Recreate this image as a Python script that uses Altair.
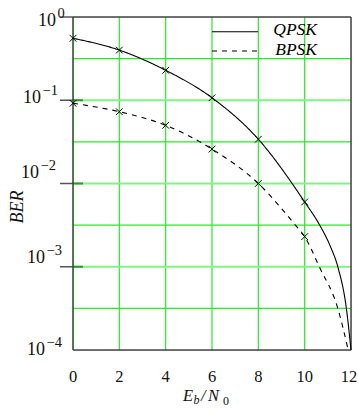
import altair as alt
import pandas as pd

# ---------------- data ----------------
ebn0 = [0, 2, 4, 6, 8, 10]
qpsk_marks = [0.555, 0.40, 0.229, 0.107, 0.034, 0.0060]
bpsk_marks = [0.092, 0.0728, 0.050, 0.0259, 0.0100, 0.0023]

# where the curves cross the horizontal grid lines near the end
qpsk_tail_x = [10.65, 11.1, 11.43, 11.8, 12.0]
qpsk_tail_y = [0.00316, 0.00178, 0.001, 0.000316, 0.0001]
bpsk_tail_x = [9.6, 10.63, 11.43, 11.88]
bpsk_tail_y = [0.00316, 0.001, 0.000316, 0.0001]

x_ticks = [0, 2, 4, 6, 8, 10, 12]
x_grid = [2, 4, 6, 8, 10]
decades = [1.0, 0.1, 0.01, 0.001, 0.0001]
decade_exp = ["0", "\u22121", "\u22122", "\u22123", "\u22124"]
half_decades = [10 ** -0.5, 10 ** -1.5, 10 ** -2.5, 10 ** -3.5]
series = ["QPSK", "BPSK"]

# ---------------- layout ----------------
W, H = 278, 333
FONT = "Liberation Serif"
GREEN = "#22ee22"
LIGHT_GREEN = "#80f580"
DARK = "#444444"

xs = alt.Scale(domain=[0, 12], nice=False, zero=False)
ys = alt.Scale(type="log", domain=[1e-4, 1], nice=False)

X = lambda f: alt.X(f, type="quantitative", scale=xs, axis=None)
Y = lambda f: alt.Y(f, type="quantitative", scale=ys, axis=None)

one = pd.DataFrame({"a": [0]})

lines_df = pd.concat([
    pd.DataFrame({"x": ebn0 + qpsk_tail_x, "ber": qpsk_marks + qpsk_tail_y, "s": "QPSK"}),
    pd.DataFrame({"x": ebn0 + bpsk_tail_x, "ber": bpsk_marks + bpsk_tail_y, "s": "BPSK"}),
])
marks_df = pd.concat([
    pd.DataFrame({"x": ebn0, "ber": qpsk_marks, "s": "QPSK"}),
    pd.DataFrame({"x": ebn0, "ber": bpsk_marks, "s": "BPSK"}),
])

layers = []

# vertical grid
layers.append(alt.Chart(pd.DataFrame({"x": x_grid})).mark_rule(color=GREEN, strokeWidth=1.2)
              .encode(x=X("x")))
# half-decade horizontal grid
layers.append(alt.Chart(pd.DataFrame({"y": half_decades})).mark_rule(color=GREEN, strokeWidth=1.2)
              .encode(y=Y("y")))
# decade horizontal grid (lighter, thicker)
layers.append(alt.Chart(pd.DataFrame({"y": decades[1:4]})).mark_rule(color=LIGHT_GREEN, strokeWidth=2)
              .encode(y=Y("y")))
# inner decade ticks (dark green)
layers.append(alt.Chart(pd.DataFrame({"y": decades[1:4]})).mark_rule(color="#2a9a2a", strokeWidth=2)
              .encode(y=Y("y"), x=alt.value(0), x2=alt.value(10)))
# outer decade ticks (gray)
layers.append(alt.Chart(pd.DataFrame({"y": decades[0:4]})).mark_rule(color="#555555", strokeWidth=1.5)
              .encode(y=Y("y"), x=alt.value(-13), x2=alt.value(0)))
# frame
layers.append(alt.Chart(one).mark_rule(color=DARK, strokeWidth=1.5)
              .encode(x=alt.value(0), x2=alt.value(W), y=alt.value(0)))
layers.append(alt.Chart(one).mark_rule(color=DARK, strokeWidth=1.5)
              .encode(x=alt.value(0), x2=alt.value(W), y=alt.value(H)))
layers.append(alt.Chart(one).mark_rule(color=DARK, strokeWidth=1.5)
              .encode(x=alt.value(W), y=alt.value(0), y2=alt.value(H)))
layers.append(alt.Chart(one).mark_rule(color="#1f4f1f", strokeWidth=1.5)
              .encode(x=alt.value(0), y=alt.value(0), y2=alt.value(H)))

# curves
dash_scale = alt.Scale(domain=series, range=[[1, 0], [5, 5]])
layers.append(alt.Chart(lines_df).mark_line(color="black", strokeWidth=1.1, interpolate="monotone")
              .encode(x=X("x"), y=Y("ber"),
                      detail="s:N",
                      strokeDash=alt.StrokeDash("s:N", scale=dash_scale, legend=None)))
# markers
layers.append(alt.Chart(marks_df).mark_point(shape="M-1,-1L1,1M-1,1L1,-1", filled=False, color="black",
                                             strokeWidth=1, size=45, opacity=1)
              .encode(x=X("x"), y=Y("ber")))

# legend
leg_df = pd.DataFrame({"s": series, "ly": [14.7, 34], "ty": [18, 38]})
layers.append(alt.Chart(leg_df).mark_rule(color="black", strokeWidth=1.1)
              .encode(x=alt.value(139), x2=alt.value(185), y=alt.Y("ly:Q", scale=None),
                      strokeDash=alt.StrokeDash("s:N", scale=dash_scale, legend=None)))
layers.append(alt.Chart(leg_df).mark_text(font=FONT, fontSize=17.5, fontStyle="italic", align="right",
                                          baseline="alphabetic", color="black")
              .encode(x=alt.value(244), y=alt.Y("ty:Q", scale=None), text="s:N"))

# x tick labels
for ticks, dx in ((x_ticks[:-1], 0), (x_ticks[-1:], -2)):
    layers.append(alt.Chart(pd.DataFrame({"x": ticks})).mark_text(font=FONT, fontSize=16.5,
                                                                    baseline="alphabetic", dx=dx,
                                                                    color="#111111")
                  .encode(x=X("x"), y=alt.value(H + 32), text=alt.Text("x:Q", format="d")))

# y tick labels (10 with superscript exponent), slightly irregular placement like the original
base_dx = [-17, -32, -34, -28, -28]
base_dy = [9, 3, -6, -4, 5]
for v, e, dx, dy in zip(decades, decade_exp, base_dx, base_dy):
    d = pd.DataFrame({"y": [v], "b": ["10"], "e": [e]})
    layers.append(alt.Chart(d).mark_text(font=FONT, fontSize=18, align="right", baseline="alphabetic",
                                         dy=dy, color="#111111")
                  .encode(x=alt.value(dx), y=Y("y"), text="b:N"))
    layers.append(alt.Chart(d).mark_text(font=FONT, fontSize=14.5, align="left", baseline="alphabetic",
                                         dy=dy - 8, color="#111111")
                  .encode(x=alt.value(dx + 1.5), y=Y("y"), text="e:N"))

# axis titles
def txt(t, x, y, size, style="italic", **kw):
    return alt.Chart(pd.DataFrame({"t": [t]})).mark_text(font=FONT, fontSize=size, fontStyle=style,
                                                         baseline="alphabetic", align="left",
                                                         color="#111111", **kw).encode(
        x=alt.value(x), y=alt.value(y), text="t:N")

layers.append(txt("E", 110, 384, 16.5))
layers.append(txt("b", 120.5, 387, 12))
layers.append(txt("/", 128, 384, 16.5))
layers.append(txt("N", 135, 384, 16.5))
layers.append(txt("0", 150, 388, 12, style="normal"))

layers.append(alt.Chart(pd.DataFrame({"t": ["BER"]})).mark_text(font=FONT, fontSize=18, fontStyle="italic",
                                                                 angle=270, align="center", baseline="middle",
                                                                 color="#111111")
              .encode(x=alt.value(-55), y=alt.value(190), text="t:N"))

chart = alt.layer(*layers).properties(
    width=W, height=H,
    padding={"left": 73, "top": 17, "right": 7, "bottom": 60},
    autosize=alt.AutoSizeParams(type="none"),
).configure_view(stroke=None).configure(background="white")

chart.save("out.html", embed_options={"renderer": "svg", "actions": False})
